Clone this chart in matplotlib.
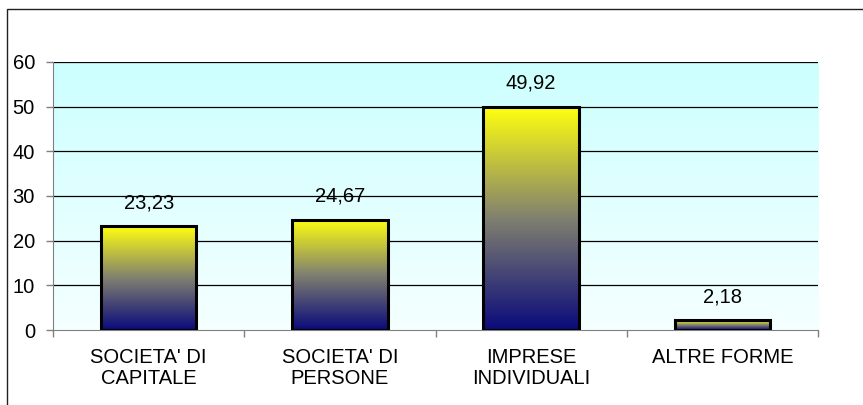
import matplotlib.pyplot as plt
import numpy as np
from matplotlib.colors import LinearSegmentedColormap
from matplotlib.patches import Rectangle

plt.rcParams['font.family'] = ['Liberation Sans', 'DejaVu Sans']

categories = ["SOCIETA' DI\nCAPITALE", "SOCIETA' DI\nPERSONE", "IMPRESE\nINDIVIDUALI", "ALTRE FORME"]
values = [23.23, 24.67, 49.92, 2.18]
labels = ["23,23", "24,67", "49,92", "2,18"]

fig = plt.figure(figsize=(8.63, 4.05), dpi=100)
ax = fig.add_axes([53 / 863, 75 / 405, 765 / 863, 268 / 405])

# outer chart frame (cut off at right and bottom like the reference)
fig.patches.append(Rectangle((7 / 863, -0.1), 1.2, 0.1 + 396 / 405, transform=fig.transFigure,
                             fill=False, edgecolor='#202020', linewidth=1.0))

x = np.arange(len(categories))

# background gradient of the plot area
bg = LinearSegmentedColormap.from_list('bg', ['#f5ffff', '#ccffff'])
ax.imshow(np.linspace(0, 1, 256).reshape(-1, 1), cmap=bg, aspect='auto',
          extent=[-0.5, len(categories) - 0.5, 0, 60], origin='lower', zorder=0)

for yv in range(10, 61, 10):
    ax.axhline(yv, color='black', linewidth=0.9, zorder=1)

grad = LinearSegmentedColormap.from_list('bar', ['#0a0a7c', '#808070', '#ffff10'])
bars = ax.bar(x, values, width=0.5, facecolor='none', edgecolor='black', linewidth=2.2, zorder=3)
for b, lab in zip(bars, labels):
    x0, w, h = b.get_x(), b.get_width(), b.get_height()
    im = ax.imshow(np.linspace(0, 1, 256).reshape(-1, 1), cmap=grad, aspect='auto',
                   extent=[x0, x0 + w, 0, h], origin='lower', zorder=2)
    im.set_clip_path(b)
    ax.annotate(lab, (x0 + w / 2, h), xytext=(0, 13), textcoords='offset points',
                ha='center', va='baseline', fontsize=14.5)

ax.set_xlim(-0.5, len(categories) - 0.5)
ax.set_ylim(0, 60)

for s in ['top', 'right']:
    ax.spines[s].set_visible(False)
ax.spines['left'].set_color('#808080')
ax.spines['bottom'].set_color('#808080')

ax.set_yticks(range(0, 61, 10))
ax.tick_params(axis='y', length=5, width=1, color='#808080', labelsize=14.5, pad=8)
ax.set_xticks(np.arange(-0.5, len(categories), 1))
ax.set_xticklabels([])
ax.tick_params(axis='x', length=5, width=1, color='#808080')
for xi, c in zip(x, categories):
    ax.text(xi, -0.068, c, transform=ax.get_xaxis_transform(), ha='center', va='top',
            fontsize=14.5, linespacing=1.15)

fig.savefig('out.png', dpi=100)
